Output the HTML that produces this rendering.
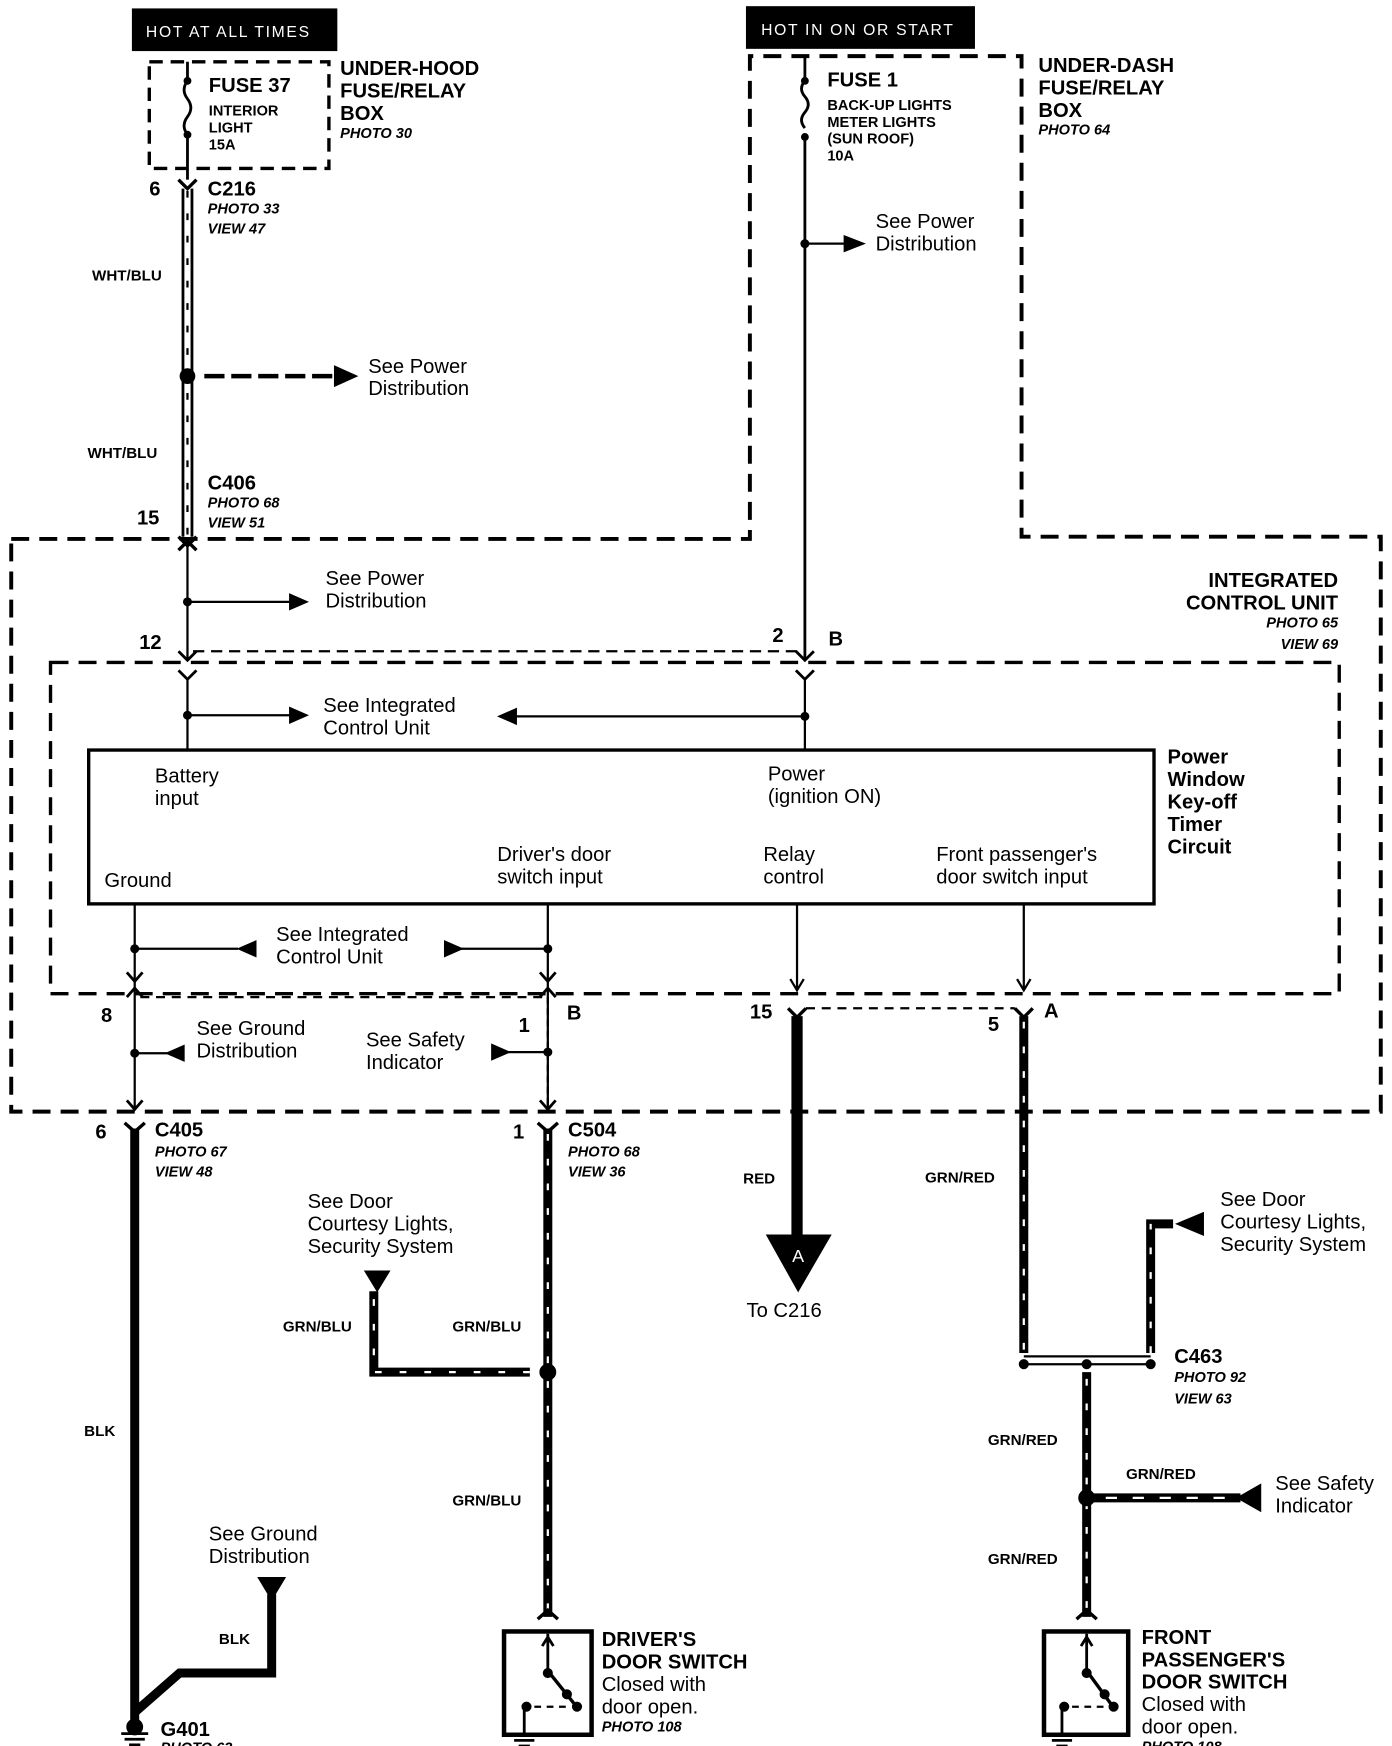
<!DOCTYPE html>
<html><head><meta charset="utf-8"><style>
html,body{margin:0;padding:0;background:#fff;}
svg{display:block}
text{font-family:"Liberation Sans",Arial,sans-serif;fill:#000}
.b{font-weight:bold;font-size:18px}
.n{font-size:18px}
.i{font-style:italic;font-weight:bold;font-size:13px}
.s{font-weight:bold;font-size:13px}
.w{font-weight:bold;font-size:13.5px}
</style></head><body>
<svg width="1392" height="1746" viewBox="0 0 1240 1555" preserveAspectRatio="none" xmlns="http://www.w3.org/2000/svg">
<defs>
<marker id="ar" viewBox="0 0 10 10" refX="9" refY="5" markerWidth="6" markerHeight="6" orient="auto" markerUnits="userSpaceOnUse"><path d="M0,0L10,5L0,10z"/></marker>
</defs>
<g fill="none" stroke="#000">
<!-- top labels -->
<rect x="118" y="8" width="182" height="37" fill="#000"/>
<rect x="665" y="6" width="203" height="37" fill="#000"/>
<!-- fuse 37 box -->
<rect x="133" y="55" width="160" height="95" stroke-width="3" stroke-dasharray="12,7"/>
<!-- big dashed polygon -->
<path d="M10,480 L668,480 L668,50 L910,50 L910,478 L1230,478 L1230,990 L10,990 Z" stroke-width="3.5" stroke-dasharray="16,9"/>
<!-- inner ICU dashed -->
<rect x="45" y="590" width="1148" height="295" stroke-width="3" stroke-dasharray="16,9"/>
<!-- fuse 37 -->
<line x1="167" y1="55" x2="167" y2="70" stroke-width="2.5"/>
<path d="M167,72 q-6,8 0,16 q6,8 0,16 q-6,8 0,16" stroke-width="2.5"/>
<line x1="167" y1="122" x2="167" y2="160" stroke-width="2.5"/>
<!-- C216 connector -->
<path d="M159,160 L167,168 L175,160" stroke-width="3"/>
<!-- WHT/BLU wire -->
<line x1="163" y1="168" x2="163" y2="478" stroke-width="2.5"/>
<line x1="171" y1="168" x2="171" y2="478" stroke-width="2.5"/>
<line x1="167" y1="170" x2="167" y2="476" stroke-width="2" stroke-dasharray="6,14"/>
<path d="M182,335 L300,335" stroke-width="4" stroke-dasharray="18,6"/>
<path d="M298,326 L318,335 L298,344Z" fill="#000"/>
<!-- C406 -->
<path d="M159,478 L167,486 L175,478" stroke-width="3"/>
<path d="M159,490 L167,482 L175,490" stroke-width="3"/>
<line x1="167" y1="486" x2="167" y2="588" stroke-width="2"/>
<line x1="167" y1="536" x2="262" y2="536" stroke-width="2"/>
<path d="M258,529 L274,536 L258,543Z" fill="#000"/>
<!-- 12 / 2 connectors -->
<path d="M159,580 L167,588 L175,580" stroke-width="2.5"/>
<path d="M159,597 L167,605 L175,597" stroke-width="2.5"/>
<line x1="172" y1="580" x2="710" y2="580" stroke-width="2" stroke-dasharray="10,6"/>
<path d="M709,580 L717,588 L725,580" stroke-width="2.5"/>
<path d="M709,597 L717,605 L725,597" stroke-width="2.5"/>
<line x1="167" y1="605" x2="167" y2="668" stroke-width="2"/>
<line x1="717" y1="605" x2="717" y2="668" stroke-width="2"/>
<!-- fuse 1 -->
<line x1="717" y1="50" x2="717" y2="70" stroke-width="2.5"/>
<path d="M717,72 q-6,7 0,14 q6,7 0,14 q-6,7 0,14" stroke-width="2.5"/>
<line x1="717" y1="120" x2="717" y2="588" stroke-width="2.5"/>
<line x1="717" y1="217" x2="755" y2="217" stroke-width="2"/>
<path d="M752,210 L770,217 L752,224Z" fill="#000"/>
<!-- ICU internal arrows -->
<line x1="167" y1="637" x2="262" y2="637" stroke-width="2"/>
<path d="M258,630 L274,637 L258,644Z" fill="#000"/>
<line x1="458" y1="638" x2="717" y2="638" stroke-width="2"/>
<path d="M460,631 L444,638 L460,645Z" fill="#000"/>
<!-- main box -->
<rect x="79" y="668" width="949" height="137" stroke-width="3"/>
<!-- lines down -->
<line x1="120" y1="805" x2="120" y2="988" stroke-width="2"/>
<line x1="488" y1="805" x2="488" y2="988" stroke-width="2"/>
<line x1="710" y1="805" x2="710" y2="880" stroke-width="2"/>
<line x1="912" y1="805" x2="912" y2="880" stroke-width="2"/>
<path d="M704,872 L710,882 L716,872" stroke-width="2"/>
<path d="M906,872 L912,882 L918,872" stroke-width="2"/>
<line x1="120" y1="845" x2="212" y2="845" stroke-width="2"/>
<path d="M228,838 L212,845 L228,852Z" fill="#000"/>
<line x1="410" y1="845" x2="488" y2="845" stroke-width="2"/>
<path d="M396,838 L412,845 L396,852Z" fill="#000"/>
<path d="M113,866 L120,874 L127,866" stroke-width="2.5"/>
<path d="M113,888 L120,880 L127,888" stroke-width="2.5"/>
<path d="M481,866 L488,874 L495,866" stroke-width="2.5"/>
<path d="M481,888 L488,880 L495,888" stroke-width="2.5"/>
<line x1="125" y1="888" x2="483" y2="888" stroke-width="2" stroke-dasharray="8,6"/>
<line x1="488" y1="888" x2="488" y2="985" stroke-width="2" stroke-dasharray="6,4"/>
<line x1="120" y1="938" x2="150" y2="938" stroke-width="2"/>
<path d="M164,931 L148,938 L164,945Z" fill="#000"/>
<line x1="452" y1="937" x2="488" y2="937" stroke-width="2"/>
<path d="M438,930 L454,937 L438,944Z" fill="#000"/>
<path d="M113,980 L120,988 L127,980" stroke-width="2.5"/>
<path d="M481,980 L488,988 L495,980" stroke-width="2.5"/>
<!-- 15 / 5 connectors -->
<path d="M702,898 L710,906 L718,898" stroke-width="3"/>
<path d="M904,898 L912,906 L920,898" stroke-width="3"/>
<line x1="718" y1="898" x2="904" y2="898" stroke-width="2" stroke-dasharray="8,6"/>
<!-- C405/C504 -->
<path d="M111,1000 L120,1008 L129,1000" stroke-width="3"/>
<path d="M479,1000 L488,1008 L497,1000" stroke-width="3"/>
<!-- BLK wire -->
<line x1="120" y1="1005" x2="120" y2="1535" stroke-width="8"/>
<path d="M120,1525 L160,1490 L242,1490 L242,1420" stroke-width="8"/>
<path d="M230,1405 L254,1405 L242,1425Z" fill="#000"/>
<!-- G401 ground -->
<circle cx="120" cy="1538" r="7" fill="#000"/>
<line x1="108" y1="1544" x2="132" y2="1544" stroke-width="2.5"/>
<line x1="111" y1="1549" x2="129" y2="1549" stroke-width="2.5"/>
<line x1="115" y1="1554" x2="125" y2="1554" stroke-width="2.5"/>
<!-- GRN/BLU wire -->
<line x1="488" y1="1005" x2="488" y2="1440" stroke-width="8"/>
<line x1="488" y1="1010" x2="488" y2="1440" stroke="#fff" stroke-width="2" stroke-dasharray="6,16"/>
<path d="M472,1222 L333,1222 L333,1150" stroke-width="8"/>
<path d="M472,1222 L333,1222 L333,1150" stroke="#fff" stroke-width="2" stroke-dasharray="6,16"/>
<path d="M325,1132 L347,1132 L336,1150Z" fill="#000"/>
<circle cx="488" cy="1222" r="7" fill="#000"/>
<path d="M479,1442 L488,1434 L497,1442" stroke-width="3"/>
<!-- driver's switch -->
<rect x="449" y="1453" width="78" height="92" stroke-width="4"/>
<line x1="488" y1="1455" x2="488" y2="1488" stroke-width="2.5"/>
<path d="M483,1466 L488,1458 L493,1466" stroke-width="2.5"/>
<line x1="488" y1="1488" x2="512" y2="1518" stroke-width="3"/>
<circle cx="488" cy="1490" r="4" fill="#000"/>
<circle cx="505" cy="1509" r="4" fill="#000"/>
<circle cx="514" cy="1520" r="4" fill="#000"/>
<line x1="476" y1="1520" x2="506" y2="1520" stroke-width="2" stroke-dasharray="6,5"/>
<circle cx="469" cy="1520" r="4" fill="#000"/>
<line x1="467" y1="1520" x2="467" y2="1545" stroke-width="2.5"/>
<line x1="455" y1="1545" x2="479" y2="1545" stroke-width="2.5"/>
<line x1="458" y1="1550" x2="476" y2="1550" stroke-width="2.5"/>
<line x1="462" y1="1555" x2="472" y2="1555" stroke-width="2.5"/>
<!-- RED wire -->
<line x1="710" y1="905" x2="710" y2="1105" stroke-width="10"/>
<path d="M683,1100 L740,1100 L711,1150Z" fill="#000"/>
<!-- GRN/RED to C463 -->
<line x1="912" y1="905" x2="912" y2="1205" stroke-width="8"/>
<line x1="912" y1="910" x2="912" y2="1205" stroke="#fff" stroke-width="2" stroke-dasharray="6,16"/>
<path d="M1025,1205 L1025,1090 L1045,1090" stroke-width="8"/>
<path d="M1025,1205 L1025,1090" stroke="#fff" stroke-width="2" stroke-dasharray="6,16"/>
<path d="M1072,1080 L1048,1090 L1072,1100Z" fill="#000"/>
<line x1="912" y1="1215" x2="1025" y2="1215" stroke-width="2"/>
<line x1="912" y1="1208" x2="1025" y2="1208" stroke-width="2"/>
<circle cx="912" cy="1215" r="4" fill="#000"/>
<circle cx="968" cy="1215" r="4" fill="#000"/>
<circle cx="1025" cy="1215" r="4" fill="#000"/>
<line x1="968" y1="1222" x2="968" y2="1440" stroke-width="8"/>
<line x1="968" y1="1228" x2="968" y2="1440" stroke="#fff" stroke-width="2" stroke-dasharray="6,16"/>
<line x1="968" y1="1334" x2="1105" y2="1334" stroke-width="8"/>
<line x1="985" y1="1334" x2="1100" y2="1334" stroke="#fff" stroke-width="2" stroke-dasharray="10,14"/>
<path d="M1123,1322 L1102,1334 L1123,1346Z" fill="#000"/>
<circle cx="968" cy="1334" r="7" fill="#000"/>
<path d="M959,1442 L968,1434 L977,1442" stroke-width="3"/>
<!-- passenger switch -->
<rect x="930" y="1453" width="75" height="92" stroke-width="4"/>
<line x1="968" y1="1455" x2="968" y2="1488" stroke-width="2.5"/>
<path d="M963,1466 L968,1458 L973,1466" stroke-width="2.5"/>
<line x1="968" y1="1488" x2="990" y2="1518" stroke-width="3"/>
<circle cx="968" cy="1490" r="4" fill="#000"/>
<circle cx="984" cy="1509" r="4" fill="#000"/>
<circle cx="992" cy="1520" r="4" fill="#000"/>
<line x1="955" y1="1520" x2="986" y2="1520" stroke-width="2" stroke-dasharray="6,5"/>
<circle cx="948" cy="1520" r="4" fill="#000"/>
<line x1="946" y1="1520" x2="946" y2="1545" stroke-width="2.5"/>
<line x1="934" y1="1545" x2="958" y2="1545" stroke-width="2.5"/>
<line x1="937" y1="1550" x2="955" y2="1550" stroke-width="2.5"/>
<line x1="941" y1="1555" x2="951" y2="1555" stroke-width="2.5"/>
</g>
<g fill="#000">
<circle cx="167" cy="335" r="7"/>
<circle cx="167" cy="536" r="4"/>
<circle cx="717" cy="217" r="4"/>
<circle cx="167" cy="637" r="4"/>
<circle cx="717" cy="638" r="4"/>
<circle cx="120" cy="845" r="4"/>
<circle cx="488" cy="845" r="4"/>
<circle cx="120" cy="938" r="4"/>
<circle cx="488" cy="937" r="4"/>
<circle cx="167" cy="72" r="3.5"/><circle cx="167" cy="120" r="3.5"/>
<circle cx="717" cy="72" r="3.5"/><circle cx="717" cy="122" r="3.5"/>
</g>
<!-- text -->
<text x="130" y="33" style="fill:#fff;font-size:14px;letter-spacing:1.5px">HOT AT ALL TIMES</text>
<text x="678" y="31" style="fill:#fff;font-size:14px;letter-spacing:1.5px">HOT IN ON OR START</text>
<text x="186" y="82" class="b">FUSE 37</text>
<text x="186" y="103" class="s">INTERIOR</text>
<text x="186" y="118" class="s">LIGHT</text>
<text x="186" y="133" class="s">15A</text>
<text x="303" y="67" class="b">UNDER-HOOD</text>
<text x="303" y="87" class="b">FUSE/RELAY</text>
<text x="303" y="107" class="b">BOX</text>
<text x="303" y="123" class="i">PHOTO 30</text>
<text x="133" y="174" class="b">6</text>
<text x="185" y="174" class="b">C216</text>
<text x="185" y="190" class="i">PHOTO 33</text>
<text x="185" y="208" class="i">VIEW 47</text>
<text x="82" y="250" class="w">WHT/BLU</text>
<text x="328" y="332" class="n">See Power</text>
<text x="328" y="352" class="n">Distribution</text>
<text x="78" y="408" class="w">WHT/BLU</text>
<text x="185" y="436" class="b">C406</text>
<text x="185" y="452" class="i">PHOTO 68</text>
<text x="185" y="470" class="i">VIEW 51</text>
<text x="122" y="467" class="b">15</text>
<text x="737" y="77" class="b">FUSE 1</text>
<text x="737" y="98" class="s">BACK-UP LIGHTS</text>
<text x="737" y="113" class="s">METER LIGHTS</text>
<text x="737" y="128" class="s">(SUN ROOF)</text>
<text x="737" y="143" class="s">10A</text>
<text x="925" y="64" class="b">UNDER-DASH</text>
<text x="925" y="84" class="b">FUSE/RELAY</text>
<text x="925" y="104" class="b">BOX</text>
<text x="925" y="120" class="i">PHOTO 64</text>
<text x="780" y="203" class="n">See Power</text>
<text x="780" y="223" class="n">Distribution</text>
<text x="290" y="521" class="n">See Power</text>
<text x="290" y="541" class="n">Distribution</text>
<text x="1192" y="523" class="b" text-anchor="end">INTEGRATED</text>
<text x="1192" y="543" class="b" text-anchor="end">CONTROL UNIT</text>
<text x="1192" y="559" class="i" text-anchor="end">PHOTO 65</text>
<text x="1192" y="578" class="i" text-anchor="end">VIEW 69</text>
<text x="124" y="578" class="b">12</text>
<text x="688" y="572" class="b">2</text>
<text x="738" y="575" class="b">B</text>
<text x="288" y="634" class="n">See Integrated</text>
<text x="288" y="654" class="n">Control Unit</text>
<text x="138" y="697" class="n">Battery</text>
<text x="138" y="717" class="n">input</text>
<text x="684" y="695" class="n">Power</text>
<text x="684" y="715" class="n">(ignition ON)</text>
<text x="93" y="790" class="n">Ground</text>
<text x="443" y="767" class="n">Driver's door</text>
<text x="443" y="787" class="n">switch input</text>
<text x="680" y="767" class="n">Relay</text>
<text x="680" y="787" class="n">control</text>
<text x="834" y="767" class="n">Front passenger's</text>
<text x="834" y="787" class="n">door switch input</text>
<text x="1040" y="680" class="b">Power</text>
<text x="1040" y="700" class="b">Window</text>
<text x="1040" y="720" class="b">Key-off</text>
<text x="1040" y="740" class="b">Timer</text>
<text x="1040" y="760" class="b">Circuit</text>
<text x="246" y="838" class="n">See Integrated</text>
<text x="246" y="858" class="n">Control Unit</text>
<text x="90" y="910" class="b">8</text>
<text x="462" y="919" class="b">1</text>
<text x="505" y="908" class="b">B</text>
<text x="668" y="907" class="b">15</text>
<text x="880" y="918" class="b">5</text>
<text x="930" y="906" class="b">A</text>
<text x="175" y="922" class="n">See Ground</text>
<text x="175" y="942" class="n">Distribution</text>
<text x="326" y="932" class="n">See Safety</text>
<text x="326" y="952" class="n">Indicator</text>
<text x="85" y="1014" class="b">6</text>
<text x="138" y="1012" class="b">C405</text>
<text x="138" y="1030" class="i">PHOTO 67</text>
<text x="138" y="1048" class="i">VIEW 48</text>
<text x="457" y="1014" class="b">1</text>
<text x="506" y="1012" class="b">C504</text>
<text x="506" y="1030" class="i">PHOTO 68</text>
<text x="506" y="1048" class="i">VIEW 36</text>
<text x="662" y="1054" class="w">RED</text>
<text x="824" y="1053" class="w">GRN/RED</text>
<text x="711" y="1124" style="fill:#fff;font-size:16px" text-anchor="middle">A</text>
<text x="665" y="1173" class="n">To C216</text>
<text x="274" y="1076" class="n">See Door</text>
<text x="274" y="1096" class="n">Courtesy Lights,</text>
<text x="274" y="1116" class="n">Security System</text>
<text x="1087" y="1074" class="n">See Door</text>
<text x="1087" y="1094" class="n">Courtesy Lights,</text>
<text x="1087" y="1114" class="n">Security System</text>
<text x="252" y="1186" class="w">GRN/BLU</text>
<text x="403" y="1186" class="w">GRN/BLU</text>
<text x="403" y="1341" class="w">GRN/BLU</text>
<text x="1046" y="1214" class="b">C463</text>
<text x="1046" y="1231" class="i">PHOTO 92</text>
<text x="1046" y="1250" class="i">VIEW 63</text>
<text x="880" y="1287" class="w">GRN/RED</text>
<text x="1003" y="1317" class="w">GRN/RED</text>
<text x="880" y="1393" class="w">GRN/RED</text>
<text x="1136" y="1327" class="n">See Safety</text>
<text x="1136" y="1347" class="n">Indicator</text>
<text x="75" y="1279" class="w">BLK</text>
<text x="195" y="1464" class="w">BLK</text>
<text x="186" y="1372" class="n">See Ground</text>
<text x="186" y="1392" class="n">Distribution</text>
<text x="143" y="1546" class="b">G401</text>
<text x="143" y="1561" class="i">PHOTO 63</text>
<text x="536" y="1466" class="b">DRIVER'S</text>
<text x="536" y="1486" class="b">DOOR SWITCH</text>
<text x="536" y="1506" class="n">Closed with</text>
<text x="536" y="1526" class="n">door open.</text>
<text x="536" y="1542" class="i">PHOTO 108</text>
<text x="1017" y="1464" class="b">FRONT</text>
<text x="1017" y="1484" class="b">PASSENGER'S</text>
<text x="1017" y="1504" class="b">DOOR SWITCH</text>
<text x="1017" y="1524" class="n">Closed with</text>
<text x="1017" y="1544" class="n">door open.</text>
<text x="1017" y="1560" class="i">PHOTO 108</text>
</svg>
</body></html>
